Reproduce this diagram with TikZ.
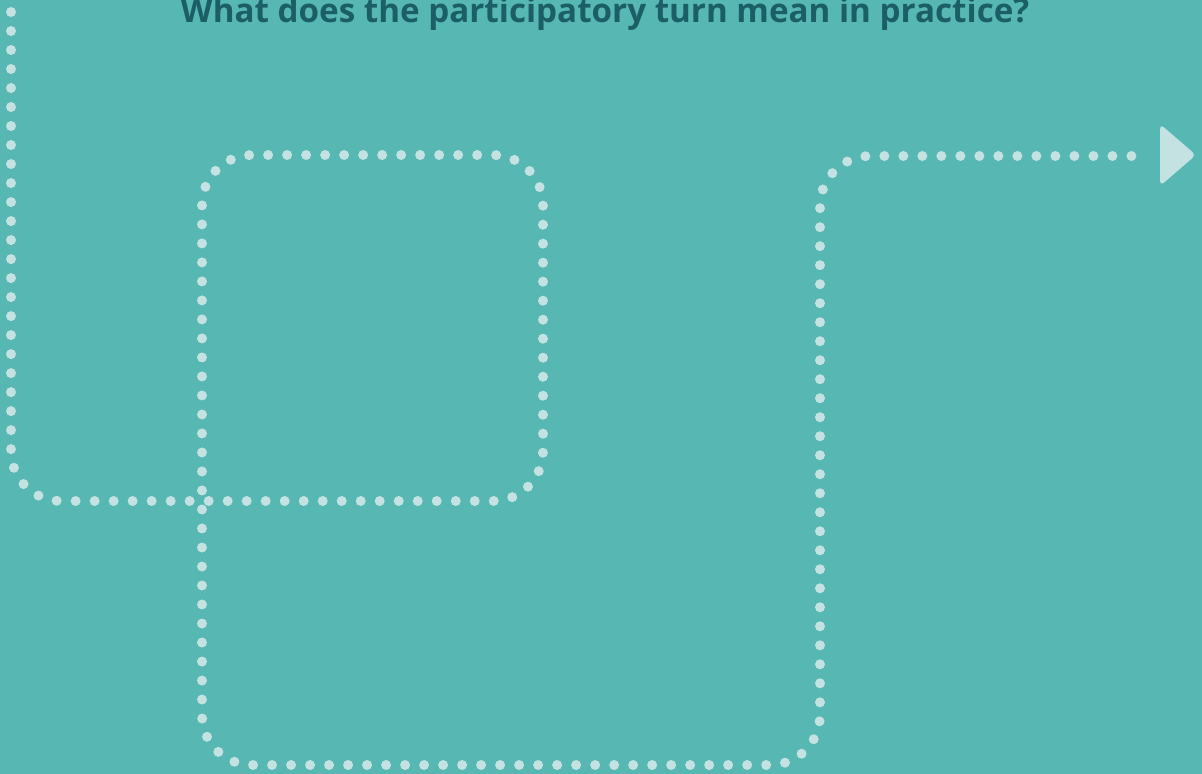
\documentclass[tikz,border=0pt]{standalone}
\usepackage{fontspec}
\setmainfont{Open Sans}
\usepackage{tikz}
\usepackage{xcolor}
\usetikzlibrary{positioning, calc}
\definecolor{bgteal}{HTML}{57B7B3}
\definecolor{dotcol}{HTML}{C4E2E1}
\definecolor{titlecol}{HTML}{1B5E66}

\begin{document}
\begin{tikzpicture}[x=0.025cm, y=-0.025cm,
  dotline/.style={draw=dotcol, line width=0.25cm, line cap=round,
    dash pattern=on 0pt off 0.475cm, rounded corners=1.25cm}]
\useasboundingbox (0,0) rectangle (1202,774);
\fill[bgteal] (0,0) rectangle (1202,774);

% Title
\node[font=\bfseries\fontsize{23.6}{28}\selectfont, text=titlecol, anchor=base] (title) at (605,23) {What does the participatory turn mean in practice?};

% Corners of the dotted route
\coordinate (start) at (11,-7);
\coordinate (c1) at (11,501);
\coordinate (c2) at (543,501);
\coordinate (c3) at (543,155);
\coordinate (c4) at (202,155);
\coordinate (c5) at (202,765);
\coordinate (c6) at (820,765);
\coordinate (c7) at (820,156);
\coordinate (stop) at (1143,156);

\begin{scope}
\clip (0,0) rectangle (1202,774);
\draw[dotline] (start) -- (c1) -- (c2) -- (c3) -- (c4) -- (c5) -- (c6) -- (c7) -- (stop);
\end{scope}

% Arrow head
\fill[dotcol, rounded corners=0.12cm] (1160,124) -- (1196,155) -- (1160,186) -- cycle;
\end{tikzpicture}
\end{document}
